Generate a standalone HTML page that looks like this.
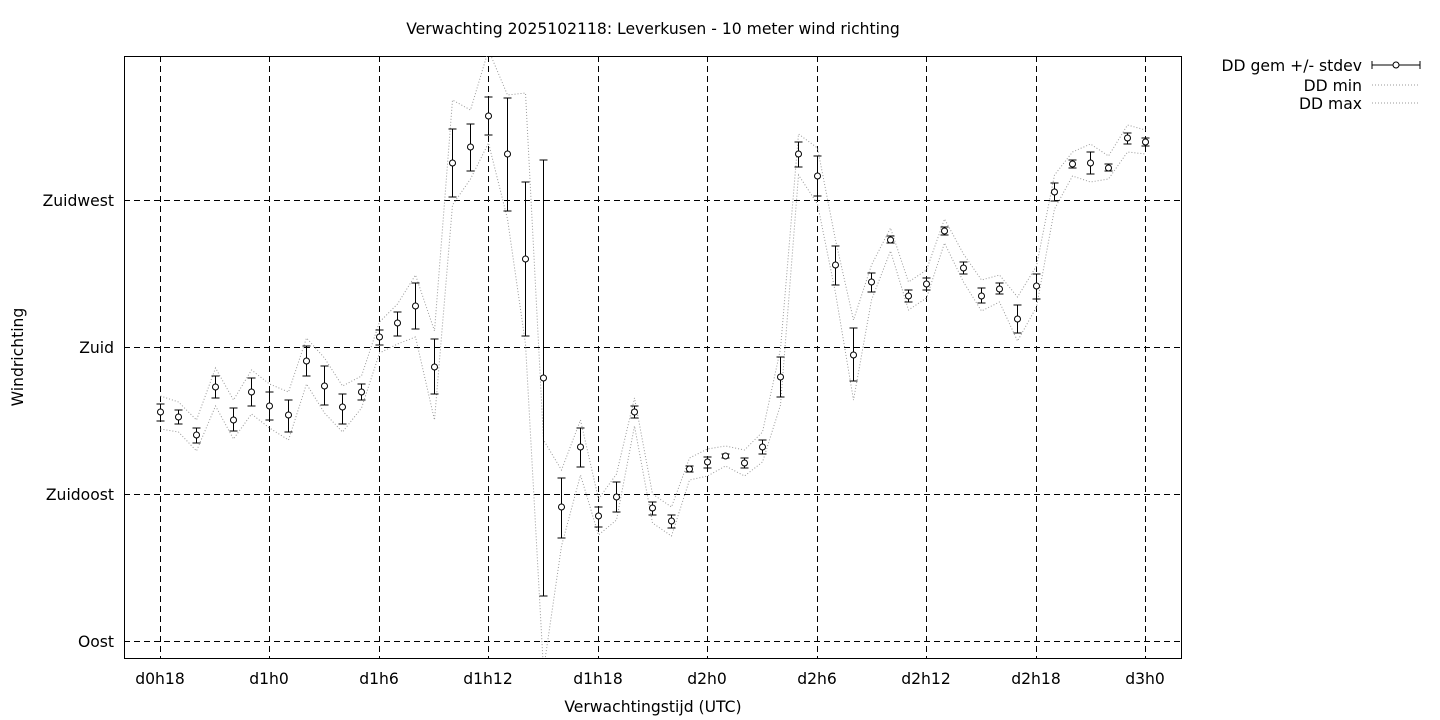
<!DOCTYPE html>
<html><head><meta charset="utf-8"><style>
html,body{margin:0;padding:0;background:#fff;}
svg{display:block;font-family:"DejaVu Sans","Liberation Sans",sans-serif;}
</style></head><body>
<svg id="s" width="1440" height="720" xmlns="http://www.w3.org/2000/svg">
<rect width="1440" height="720" fill="#fff"/>
<text x="653" y="34" font-size="15.6" text-anchor="middle">Verwachting 2025102118: Leverkusen - 10 meter wind richting</text>
<g stroke="#000" stroke-width="1" stroke-dasharray="6,4" fill="none" shape-rendering="crispEdges">
<line x1="124" y1="641.5" x2="1182" y2="641.5"/><line x1="124" y1="494.5" x2="1182" y2="494.5"/>
<line x1="124" y1="347.5" x2="1182" y2="347.5"/><line x1="124" y1="200.5" x2="1182" y2="200.5"/>
<line x1="160.5" y1="56" x2="160.5" y2="659"/><line x1="269.5" y1="56" x2="269.5" y2="659"/>
<line x1="379.5" y1="56" x2="379.5" y2="659"/><line x1="488.5" y1="56" x2="488.5" y2="659"/>
<line x1="598.5" y1="56" x2="598.5" y2="659"/><line x1="707.5" y1="56" x2="707.5" y2="659"/>
<line x1="817.5" y1="56" x2="817.5" y2="659"/><line x1="926.5" y1="56" x2="926.5" y2="659"/>
<line x1="1036.5" y1="56" x2="1036.5" y2="659"/><line x1="1145.5" y1="56" x2="1145.5" y2="659"/>
</g>
<rect x="124.5" y="56.5" width="1057" height="602" fill="none" stroke="#000" shape-rendering="crispEdges"/>
<g font-size="15.6" text-anchor="end">
<text x="114" y="647">Oost</text><text x="114" y="500">Zuidoost</text>
<text x="114" y="353">Zuid</text><text x="114" y="206">Zuidwest</text>
</g>
<g font-size="15.6" text-anchor="middle">
<text x="160" y="684">d0h18</text><text x="269" y="684">d1h0</text><text x="379" y="684">d1h6</text>
<text x="488" y="684">d1h12</text><text x="598" y="684">d1h18</text><text x="707" y="684">d2h0</text>
<text x="817" y="684">d2h6</text><text x="926" y="684">d2h12</text><text x="1036" y="684">d2h18</text>
<text x="1145" y="684">d3h0</text>
<text x="653" y="712">Verwachtingstijd (UTC)</text>
<text x="23" y="357" transform="rotate(-90 23 357)">Windrichting</text>
</g>
<g font-size="15.6" text-anchor="end">
<text x="1362" y="71">DD gem +/- stdev</text><text x="1362" y="91">DD min</text><text x="1362" y="109">DD max</text>
</g>
<g stroke="#000"><line x1="1372" y1="65" x2="1420" y2="65"/><line x1="1372" y1="61" x2="1372" y2="69"/><line x1="1420" y1="61" x2="1420" y2="69"/></g>
<circle cx="1396" cy="65" r="3" fill="#fff" stroke="#000"/>
<g stroke="#999" stroke-dasharray="1,2"><line x1="1372" y1="85" x2="1420" y2="85"/><line x1="1372" y1="103" x2="1420" y2="103"/></g>
<defs><clipPath id="c"><rect x="124" y="56" width="1058" height="603"/></clipPath></defs>
<g id="d" clip-path="url(#c)"></g>
</svg>
<script>
var D=[[412,404,421],[417,410,424],[435,428,443],[387,376,398],[420,408,431],[392,378,406],[406,392,420],[415,400,432],[361,346,376],[386,366,405],[407,394,424],[392,384,400],[337,330,345],[323,312,336],[306,283,329],[367,339,394],[163,129,197],[147,124,171],[116,97,135],[154,98,211],[259,182,336],[378,160,596],[507,478,538],[447,428,467],[516,507,527],[497,482,512],[412,406,418],[508,502,515],[521,515,528],[469,466,472],[462,457,468],[456,454,458],[463,458,468],[447,440,454],[377,357,397],[154,142,167],[176,156,196],[265,246,285],[355,328,381],[282,273,292],[240,236,243],[296,290,302],[284,278,290],[231,227,235],[268,262,274],[296,288,303],[289,283,294],[319,305,333],[286,274,299],[192,183,201],[164,160,168],[163,152,174],[168,164,171],[138,133,144],[142,138,146]];
var g=document.getElementById('d'),h='',mn=[],mx=[];
D.forEach(function(p,i){var x=Math.round(160+i*18.24)+0.5;
var a=p[1]-8,b=p[2]+8;
if(i==16)a=100;if(i==17)a=110;if(i==18)a=50;if(i==19)a=95;if(i==20)a=93;if(i==21){a=440;b=670;}
if(i==15)b=420;if(i==38)b=400;if(i==37)a=240;
mx.push(x.toFixed(1)+','+a);mn.push(x.toFixed(1)+','+b);
h+='<line x1="'+x+'" y1="'+p[1]+'" x2="'+x+'" y2="'+p[2]+'" stroke="#000"/>';
h+='<line x1="'+(x-4)+'" y1="'+p[1]+'" x2="'+(x+4)+'" y2="'+p[1]+'" stroke="#000"/>';
h+='<line x1="'+(x-4)+'" y1="'+p[2]+'" x2="'+(x+4)+'" y2="'+p[2]+'" stroke="#000"/>';
h+='<circle cx="'+x+'" cy="'+p[0]+'" r="3" fill="#fff" stroke="#000"/>';});
g.innerHTML='<polyline points="'+mn.join(' ')+'" fill="none" stroke="#999" stroke-dasharray="1,2"/><polyline points="'+mx.join(' ')+'" fill="none" stroke="#999" stroke-dasharray="1,2"/>'+h;
</script>
</body></html>
